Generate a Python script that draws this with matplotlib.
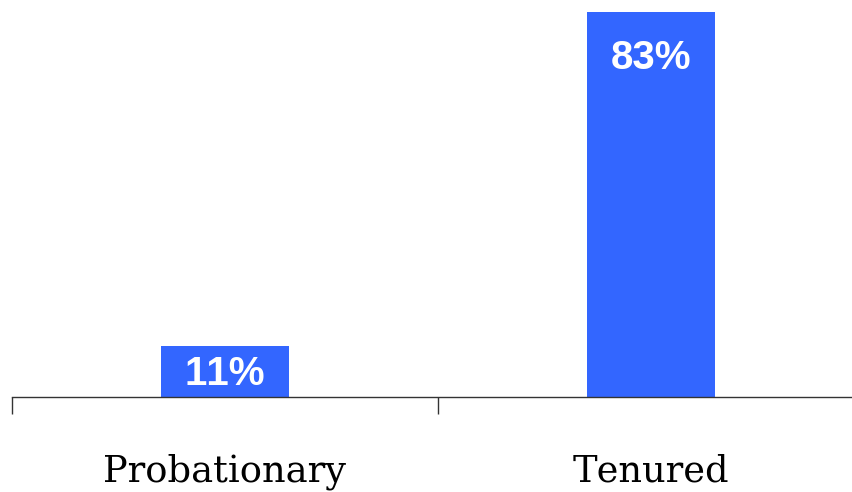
import numpy as np
import matplotlib.pyplot as plt
from matplotlib.ticker import FixedLocator

# the reference text is set without kerning
plt.rcParams['text.kerning_factor'] = 10

# data
categories = ['Probationary', 'Tenured']
values = [11, 83]
labels = ['11%', '83%']

# label offsets below the bar top (data units)
label_drop = [6.0, 9.8]

fig = plt.figure(figsize=(8.53, 4.92), dpi=100)
ax = fig.add_axes([11.7/853, 95/492, 852/853, 397/492])

x = np.arange(len(categories))
ax.bar(x, values, width=0.30, color='#3366ff')

for i in range(len(values)):
	ax.text(x[i], values[i] - label_drop[i], labels[i], ha='center', va='center',
		color='white', fontsize=29, fontweight='bold', family='Liberation Sans')

ax.set_xlim(-0.5, 1.5)
ax.set_ylim(0, 85.6)

for s in ['top', 'right', 'left']:
	ax.spines[s].set_visible(False)
ax.spines['bottom'].set_color('#333333')
ax.spines['bottom'].set_linewidth(1.0)
ax.set_yticks([])

ax.set_xticks(x)
ax.set_xticklabels(categories, family='DejaVu Serif', fontsize=26.5)
ax.tick_params(axis='x', which='major', length=0, pad=41)
ax.xaxis.set_minor_locator(FixedLocator([-0.5, 0.5, 1.5]))
ax.tick_params(axis='x', which='minor', length=12, width=1.0, color='#333333', direction='out')

plt.savefig('out.png', dpi=100)
plt.close(fig)
